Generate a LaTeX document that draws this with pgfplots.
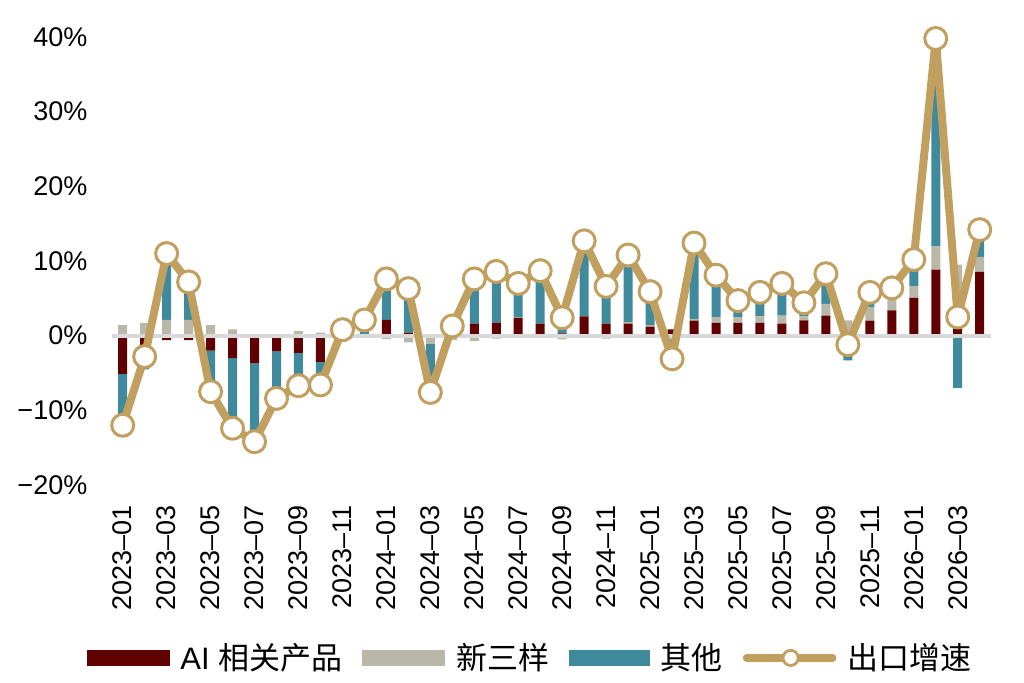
\documentclass[border=0pt]{standalone}
\usepackage{pgfplots}
\pgfplotsset{compat=1.18}
\usepackage{pgfplotstable}
\usepackage{fontspec}
\setmainfont{Liberation Sans}
\newfontfamily\cjk{Noto Sans CJK SC}
\definecolor{aired}{HTML}{600000}
\definecolor{sxgray}{HTML}{B9B8A8}
\definecolor{otteal}{HTML}{3F8A9C}
\definecolor{expgold}{HTML}{C19F5E}
\definecolor{zerogray}{HTML}{D9D9D9}

\pgfplotstableread{
i r g t total
0 -5.1 1.4 -8.0 -12.0
1 -1.5 1.7 -3.0 -2.8
2 -0.6 2.1 9.5 11.0
3 -0.6 2.1 5.7 7.2
4 -2.0 1.4 -6.9 -7.5
5 -3.0 0.85 -10.2 -12.4
6 -3.7 0.1 -10.5 -14.2
7 -2.1 0.2 -6.3 -8.4
8 -2.3 0.6 -5.0 -6.7
9 -3.5 0.4 -3.5 -6.6
10 0.2 -0.8 1.4 0.8
11 0.2 0.0 1.9 2.1
12 2.1 -0.45 5.95 7.6
13 0.4 -0.9 6.8 6.3
14 -0.3 -0.8 -6.5 -7.6
15 0.3 -0.6 1.6 1.3
16 1.6 -0.7 6.7 7.6
17 1.74 -0.4 7.26 8.6
18 2.4 0.1 4.5 7.0
19 1.6 0.0 7.1 8.7
20 0.3 -0.5 2.6 2.4
21 2.6 0.0 10.1 12.7
22 1.6 -0.4 5.4 6.6
23 1.6 0.2 9.0 10.8
24 1.2 0.2 4.5 5.9
25 0.85 -0.5 -3.45 -3.1
26 2.0 0.2 10.2 12.4
27 1.7 0.8 5.6 8.1
28 1.7 0.8 2.2 4.7
29 1.7 0.9 3.2 5.8
30 1.6 1.1 4.3 7.0
31 2.05 0.55 1.8 4.4
32 2.7 1.55 4.05 8.3
33 0.0 2.05 -3.3 -1.2
34 2.0 1.85 1.95 5.8
35 3.4 1.55 1.45 6.4
36 5.05 1.6 3.55 10.2
37 8.85 3.1 27.85 39.8
38 0.95 8.55 -7.0 2.5
39 8.55 2.0 3.65 14.2
}\data

\pgfplotsset{
  base/.style={
    scale only axis, width=439.5pt, height=224pt,
    at={(55.85pt,98.5pt)}, anchor=south west,
    xmin=-0.5, xmax=39.5, ymin=-20, ymax=40,
  },
  barstack/.style={base, ybar stacked, bar width=4.5pt, hide axis},
}

\begin{document}
\begin{tikzpicture}
\path[use as bounding box] (0,0) rectangle (512pt,341pt);

% axis with tick labels and positive stacks
\begin{axis}[base, ybar stacked, bar width=4.5pt,
  axis line style={draw=none}, major tick length=0pt,
  ytick={-20,-10,0,10,20,30,40},
  yticklabels={−20\%,−10\%,0\%,10\%,20\%,30\%,40\%},
  yticklabel style={font=\fontsize{13.5}{14}\selectfont, inner sep=0pt, anchor=east},
  yticklabel shift=12pt,
  xtick={0,2,...,38},
  xticklabels={2023–01,2023–03,2023–05,2023–07,2023–09,2023–11,2024–01,2024–03,2024–05,2024–07,2024–09,2024–11,2025–01,2025–03,2025–05,2025–07,2025–09,2025–11,2026–01,2026–03},
  xticklabel style={font=\fontsize{13.5}{14}\selectfont, rotate=90, anchor=east, inner sep=0pt},
  xticklabel shift=10pt,
]
\addplot[fill=aired, draw=none] table[x=i, y expr={max(\thisrow{r},0)}]{\data};
\addplot[fill=sxgray, draw=none] table[x=i, y expr={max(\thisrow{g},0)}]{\data};
\addplot[fill=otteal, draw=none] table[x=i, y expr={max(\thisrow{t},0)}]{\data};
\end{axis}

% negative stacks
\begin{axis}[barstack]
\addplot[fill=aired, draw=none] table[x=i, y expr={min(\thisrow{r},0)}]{\data};
\addplot[fill=sxgray, draw=none] table[x=i, y expr={min(\thisrow{g},0)}]{\data};
\addplot[fill=otteal, draw=none] table[x=i, y expr={min(\thisrow{t},0)}]{\data};
\end{axis}

% zero line, export growth line, legend
\begin{axis}[base, hide axis, clip=false,
  legend columns=4,
  legend style={at={(0.477,-0.386)}, anchor=center, draw=none, fill=none,
    inner sep=0pt, font=\fontsize{15.5}{16}\selectfont,
    /tikz/every odd column/.append style={column sep=3.5pt},
    /tikz/every even column/.append style={column sep=8pt}},
]
\addplot[draw=zerogray, line width=2pt, forget plot] coordinates {(-0.5,0) (39.5,0)};
\addlegendimage{legend image code/.code={\fill[aired] (0pt,-3.75pt) rectangle (41pt,3.75pt);}}
\addlegendentry{AI {\cjk 相关产品}}
\addlegendimage{legend image code/.code={\fill[sxgray] (0pt,-3.75pt) rectangle (41pt,3.75pt);}}
\addlegendentry{\cjk 新三样}
\addlegendimage{legend image code/.code={\fill[otteal] (0pt,-3.75pt) rectangle (40pt,3.75pt);}}
\addlegendentry{\cjk 其他}
\addplot[draw=expgold, line width=4pt, line join=round, mark=*, mark size=5.5pt,
  mark options={fill=white, draw=expgold, line width=1.5pt},
  legend image code/.code={
    \draw[expgold, line width=3.8pt, line cap=round] (0pt,0pt) -- (43pt,0pt);
    \draw[expgold, fill=white, line width=1.4pt] (22pt,0pt) circle (3.8pt);}]
  table[x=i, y=total]{\data};
\addlegendentry{\cjk 出口增速}
\end{axis}
\end{tikzpicture}
\end{document}
